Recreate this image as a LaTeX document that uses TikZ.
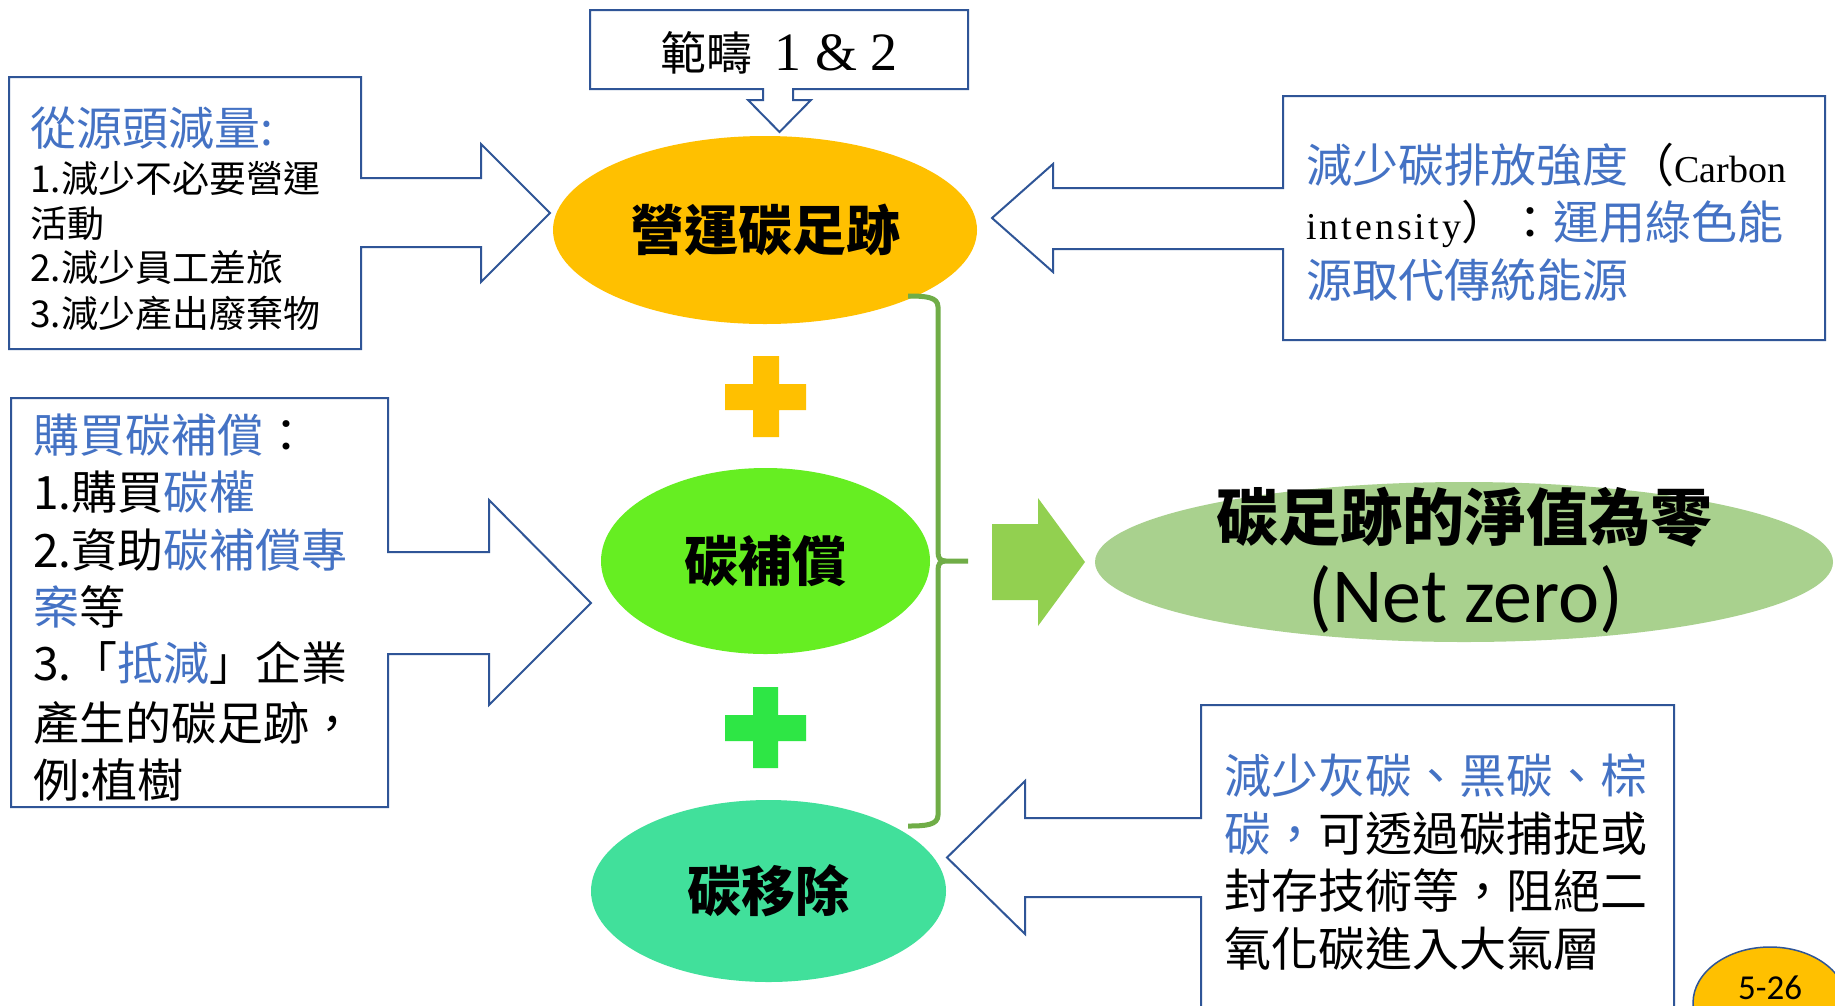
\documentclass[tikz,border=0pt]{standalone}
\usepackage{fontspec}
\setmainfont{Noto Sans CJK TC}
\newfontfamily\carlito{Carlito}
\newfontfamily\lserif{Liberation Serif}
\usetikzlibrary{shapes.geometric}
\definecolor{boxblue}{HTML}{2F5597}
\definecolor{txtblue}{HTML}{4472C4}
\definecolor{opsorange}{HTML}{FFC000}
\definecolor{offgreen}{HTML}{66EE22}
\definecolor{plusgreen}{HTML}{2EE645}
\definecolor{remteal}{HTML}{41E09B}
\definecolor{bracegreen}{HTML}{70AD47}
\definecolor{arrowgreen}{HTML}{92D050}
\definecolor{netgreen}{HTML}{A9D18E}
\newcommand\setfs[1]{\fontsize{#1}{#1}\selectfont}
\newcommand\blu[1]{\textcolor{txtblue}{#1}}
\tikzset{
  callout/.style={draw=boxblue, line width=2pt, fill=white, line join=miter},
  txt/.style={anchor=base west, inner sep=0pt, text=black},
  bubble/.style={ellipse, inner sep=0pt, font=\bfseries\setfs{54}},
}
\begin{document}
\begin{tikzpicture}[x=1pt,y=-1pt]
\useasboundingbox[fill=white] (0,0) rectangle (1835,1005);

% ---- ellipses ----
\node[bubble, fill=opsorange, minimum width=424pt, minimum height=188pt] (ops) at (765,230) {營運碳足跡};
\node[bubble, fill=offgreen, minimum width=329pt, minimum height=186pt] (off) at (765.5,561) {碳補償};
\node[bubble, fill=remteal, minimum width=355pt, minimum height=182pt] (rem) at (768.5,891) {碳移除};
\node[ellipse, fill=netgreen, minimum width=738pt, minimum height=160pt, inner sep=0pt] (net) at (1464,562) {};
\node[font=\bfseries\setfs{62}, inner sep=0pt] (netT) at (1464,517) {碳足跡的淨值為零};
\node[font=\carlito\setfs{78}, anchor=base, inner sep=0pt] (netE) at (1466,622) {(Net zero)};

% ---- plus signs ----
\fill[opsorange] (725,384) rectangle (806,410) (753,356) rectangle (779,437);
\fill[plusgreen] (725,715) rectangle (806,741) (753,687) rectangle (778,768);

% ---- brace ----
\draw[bracegreen, line width=5pt, line cap=butt]
  (908,296) .. controls (926,296) and (938,297) .. (938,307) -- (938,552)
  .. controls (938,558) and (940,561) .. (946,561) -- (968,561)
  (946,561) .. controls (940,561) and (938,564) .. (938,570) -- (938,815)
  .. controls (938,825) and (926,826) .. (908,826);

% ---- big green arrow ----
\fill[arrowgreen] (992,524) -- (1038,524) -- (1038,498) -- (1085,562) -- (1038,626) -- (1038,600) -- (992,600) -- cycle;

% ---- callouts ----
\draw[callout] (590,10) -- (968,10) -- (968,89) -- (793,89) -- (793,100) -- (811,100) -- (779.5,132) -- (748,100) -- (763,100) -- (763,89) -- (590,89) -- cycle;
\node[inner sep=0pt, font=\setfs{46}] (scope) at (779,53) {範疇\hspace{22pt}{\lserif\setfs{54}1 \& 2}};

\draw[callout] (9,77) -- (361,77) -- (361,178) -- (481,178) -- (481,144) -- (550,213) -- (481,282) -- (481,247) -- (361,247) -- (361,349) -- (9,349) -- cycle;
\node[txt, font=\setfs{46}, text=txtblue] (tlh) at (30,145.5) {從源頭減量:};
\node[txt, font=\setfs{37}] (tl1) at (30,192) {1.減少不必要營運};
\node[txt, font=\setfs{37}] (tl2) at (30,237) {活動};
\node[txt, font=\setfs{37}] (tl3) at (30,281) {2.減少員工差旅};
\node[txt, font=\setfs{37}] (tl4) at (30,327) {3.減少產出廢棄物};

\draw[callout] (11,398) -- (388,398) -- (388,552) -- (489,552) -- (489,500) -- (591,603) -- (489,705) -- (489,654) -- (388,654) -- (388,807) -- (11,807) -- cycle;
\node[txt, font=\setfs{46}] (ml1) at (33,452.5) {\blu{購買碳補償}：};
\node[txt, font=\setfs{46}] (ml2) at (33,509.5) {1.購買\blu{碳權}};
\node[txt, font=\setfs{46}] (ml3) at (33,567.5) {2.資助\blu{碳補償專}};
\node[txt, font=\setfs{46}] (ml4) at (33,624.5) {\blu{案}等};
\node[txt, font=\setfs{46}] (ml5) at (33,680.5) {3.「\blu{抵減}」企業};
\node[txt, font=\setfs{46}] (ml6) at (33,740.5) {產生的碳足跡，};
\node[txt, font=\setfs{46}] (ml7) at (33,797.5) {例:植樹};

\draw[callout] (1283,96) -- (1825,96) -- (1825,340) -- (1283,340) -- (1283,249) -- (1053,249) -- (1053,272) -- (992,218) -- (1053,164) -- (1053,188) -- (1283,188) -- cycle;
\node[txt] (tr1) at (1306,182.5) {{\setfs{46}\blu{減少碳排放強度}（}{\lserif\setfs{38}Carbon}};
\node[txt] (tr2) at (1306,239.5) {{\lserif\setfs{38}i\kern3pt n\kern3pt t\kern3pt e\kern3pt n\kern3pt s\kern3pt i\kern3pt t\kern3pt y}{\setfs{46}）：\blu{運用綠色能}}};
\node[txt, font=\setfs{46}] (tr3) at (1306,297.5) {\blu{源取代傳統能源}};

\draw[callout] (1201,705) -- (1674,705) -- (1674,1020) -- (1201,1020) -- (1201,897) -- (1025,897) -- (1025,934) -- (947,857.5) -- (1025,781) -- (1025,818) -- (1201,818) -- cycle;
\node[txt, font=\setfs{47}] (br1) at (1224,793) {\blu{減少灰碳、黑碳、棕}};
\node[txt, font=\setfs{47}] (br2) at (1224,851) {\blu{碳，}可透過碳捕捉或};
\node[txt, font=\setfs{47}] (br3) at (1224,908) {封存技術等，阻絕二};
\node[txt, font=\setfs{47}] (br4) at (1224,966) {氧化碳進入大氣層};

% ---- page number ----
\node[ellipse, draw=boxblue, line width=1.5pt, fill=opsorange, minimum width=154pt, minimum height=112pt, inner sep=0pt] (pg) at (1770,1003) {};
\node[font=\carlito\setfs{35}, anchor=base, inner sep=0pt] (pgT) at (1770,999) {5-26};
\end{tikzpicture}
\end{document}
